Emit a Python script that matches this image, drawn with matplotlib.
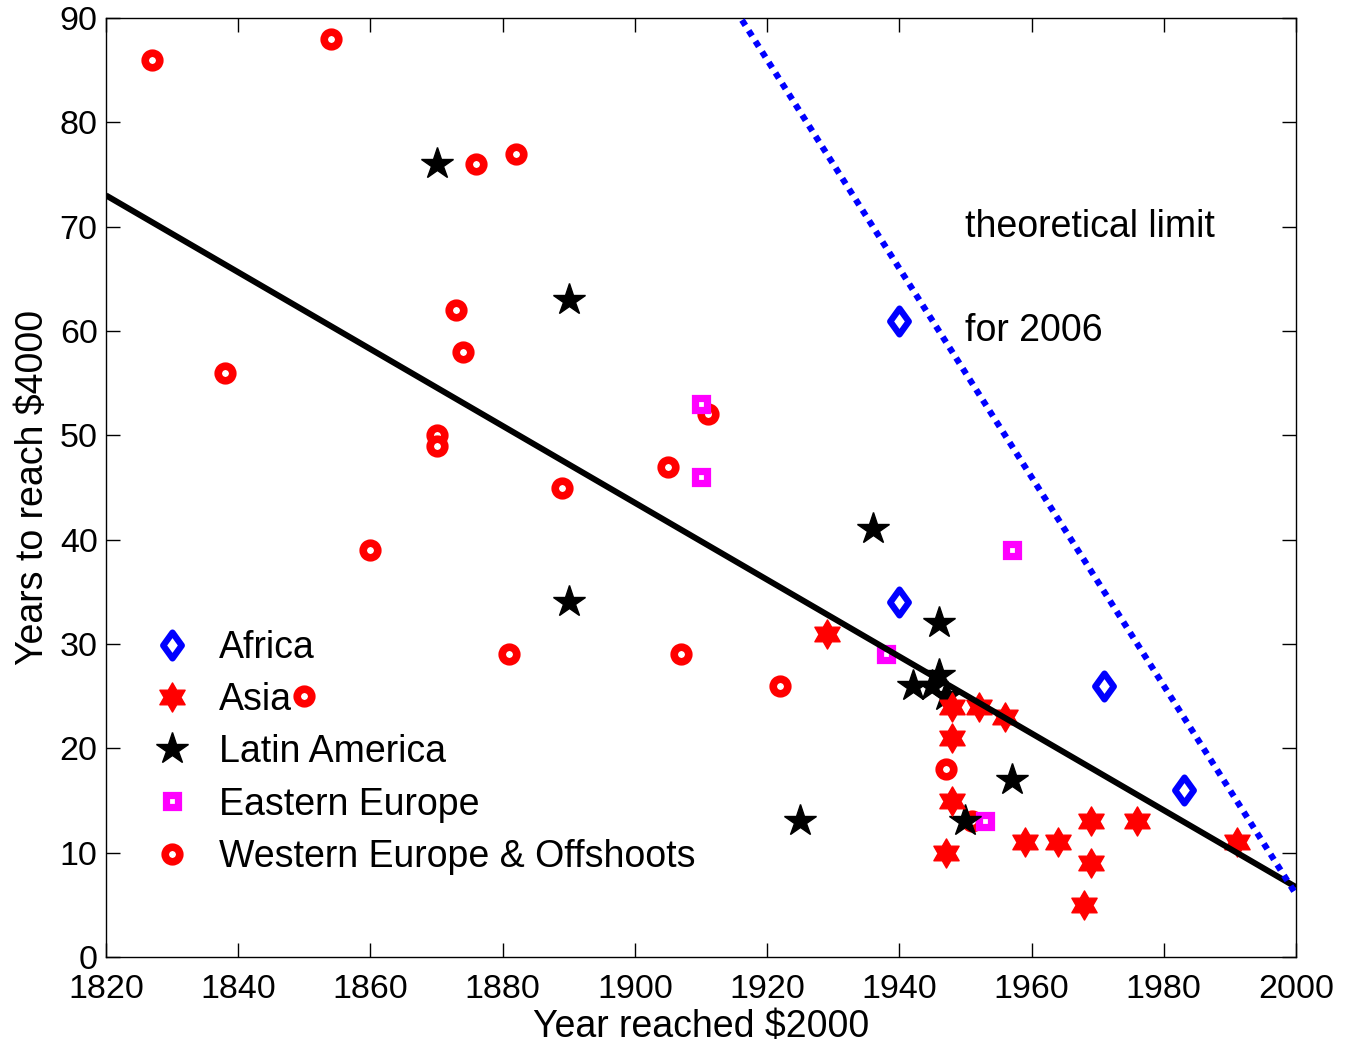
import numpy as np
import matplotlib
matplotlib.use("Agg")
import matplotlib.pyplot as plt
from matplotlib.path import Path
from matplotlib.markers import MarkerStyle

plt.rcParams['font.family'] = ['Liberation Sans', 'DejaVu Sans']

# ---- data ----
africa_x = [1940, 1940, 1971, 1983]
africa_y = [61, 34, 26, 16]
asia_x = [1929, 1948, 1952, 1956, 1948, 1948, 1947, 1959, 1964, 1969, 1969, 1968, 1976, 1991]
asia_y = [31, 24, 24, 23, 21, 15, 10, 11, 11, 13, 9, 5, 13, 11]
latam_x = [1870, 1890, 1890, 1936, 1946, 1946, 1942, 1945, 1947, 1957, 1925, 1950]
latam_y = [76, 63, 34, 41, 32, 27, 26, 26, 25, 17, 13, 13]
eeur_x = [1910, 1910, 1957, 1938, 1953]
eeur_y = [53, 46, 39, 29, 13]
weur_x = [1827, 1854, 1876, 1882, 1873, 1874, 1838, 1870, 1870, 1860, 1889, 1905,
          1911, 1881, 1907, 1922, 1850, 1947, 1951]
weur_y = [86, 88, 76, 77, 62, 58, 56, 50, 49, 39, 45, 47, 52, 29, 29, 26, 25, 18, 13]

labels = ['Africa', 'Asia', 'Latin America', 'Eastern Europe', 'Western Europe & Offshoots']
fit_x = [1820, 2000]
fit_y = [73.0, 6.7]
limit_year = 2006
xticks = list(range(1820, 2001, 20))
yticks = list(range(0, 91, 10))

# ---- figure ----
fig = plt.figure(figsize=(13.5, 10.46), dpi=100)
ax = fig.add_axes([106/1350, 1-957/1046, 1190/1350, 939/1046])

hexagram = Path.unit_regular_star(6, 0.577)
diamond_path = Path([(0, 1), (0.72, 0), (0, -1), (-0.72, 0), (0, 1)],
                    [Path.MOVETO, Path.LINETO, Path.LINETO, Path.LINETO, Path.CLOSEPOLY])
diamond = MarkerStyle(diamond_path, joinstyle='miter')

h_w, = ax.plot(weur_x, weur_y, 'o', ls='none', mfc='white', mec='red', ms=10.5, mew=5.5, zorder=3)
h_e, = ax.plot(eeur_x, eeur_y, 's', ls='none', mfc='white', mec='magenta', ms=8.8, mew=5.2, zorder=3)
h_l, = ax.plot(latam_x, latam_y, '*', ls='none', mfc='black', mec='black', ms=24, mew=1, zorder=4)
h_a, = ax.plot(asia_x, asia_y, marker=hexagram, ls='none', mfc='red', mec='red', ms=21, mew=1, zorder=5)
h_f, = ax.plot(africa_x, africa_y, marker=diamond, ls='none', mfc='white', mec='blue', ms=18.5, mew=4.6,
               zorder=5)

ax.plot(fit_x, fit_y, color='black', lw=4.3, zorder=6, solid_capstyle='butt')

# theoretical limit
xl = np.array([1820, 2000])
ax.plot(xl, limit_year - xl, color='blue', lw=4.5, ls=(0, (1, 1)), zorder=6)

FS = 27
ax.text(1950, 70, 'theoretical limit', fontsize=FS, va='center', ha='left')
ax.text(1950, 60, 'for 2006', fontsize=FS, va='center', ha='left')

ax.set_xlim(1820, 2000)
ax.set_ylim(0, 90)
ax.set_xticks(xticks)
ax.set_yticks(yticks)
ax.tick_params(direction='in', length=10, width=1, top=True, right=True, labelsize=24.5)
ax.tick_params(axis='x', pad=12)
ax.tick_params(axis='y', pad=6)
for s in ax.spines.values():
    s.set_linewidth(1.0)
ax.set_xlabel('Year reached \\$2000', fontsize=FS, labelpad=3)
ax.set_ylabel('Years to reach \\$4000', fontsize=FS, labelpad=6)

ax.legend([h_f, h_a, h_l, h_e, h_w], labels, loc='upper left',
          bbox_to_anchor=(0.0319, 0.348), frameon=False, fontsize=FS,
          handlelength=1.5, handletextpad=0.507, labelspacing=0.43, borderpad=0,
          borderaxespad=0, numpoints=1)

fig.savefig('out.png', dpi=100)
